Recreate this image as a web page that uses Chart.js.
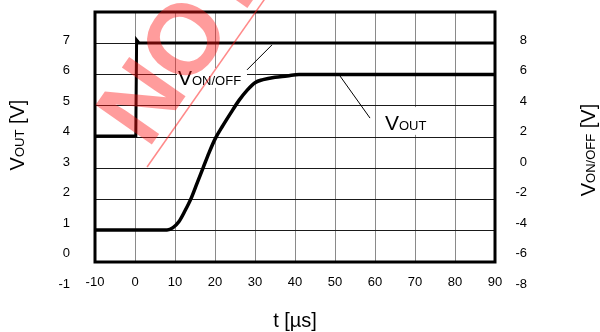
<!DOCTYPE html>
<html>
<head>
<meta charset="UTF-8">
<title>VOUT / VON/OFF vs t</title>
<script src="https://cdn.jsdelivr.net/npm/chart.js"></script>
<style>
  html, body { margin: 0; padding: 0; background: #fff; }
  .wrap { width: 600px; height: 332px; }
</style>
</head>
<body>
<div class="wrap"><canvas id="chart" width="600" height="332"></canvas></div>
<script>
// tick labels
const tTicks = [-10, 0, 10, 20, 30, 40, 50, 60, 70, 80, 90];
const voutTicks = [-1, 0, 1, 2, 3, 4, 5, 6, 7];
const vonTicks = [-8, -6, -4, -2, 0, 2, 4, 6, 8];

// V_OUT trace (left axis)
const voutT = [-10, 8, 9.5, 11, 12.5, 14, 15.5, 17, 18.5, 20, 22, 24, 26, 28, 30, 32, 35, 38, 41, 90];
const voutV = [0.77, 0.77, 0.85, 1.05, 1.4, 1.8, 2.3, 2.8, 3.3, 3.75, 4.2, 4.62, 5.02, 5.35, 5.6, 5.7, 5.78, 5.82, 5.87, 5.87];

// V_ON/OFF trace (right axis)
const vonT = [-10, 0.2, 0.4, 1.0, 90];
const vonV = [1.7, 1.7, 8.0, 7.8, 7.8];

const FONT = "'Liberation Sans', Arial, sans-serif";

function pts(xs, ys) {
    return xs.map((x, i) => ({ x: x, y: ys[i] }));
}

// text runs of different sizes on one baseline (for subscripts)
function partsWidth(ctx, parts) {
    let w = 0;
    parts.forEach(p => { ctx.font = p[1] + 'px ' + FONT; w += ctx.measureText(p[0]).width; });
    return w;
}
function drawParts(ctx, parts, x, y) {
    parts.forEach(p => {
        ctx.font = p[1] + 'px ' + FONT;
        ctx.fillText(p[0], x, y);
        x += ctx.measureText(p[0]).width;
    });
}

const decor = {
    id: 'decor',
    beforeDatasetsDraw(chart) {
        const ctx = chart.ctx, x = chart.scales.x, yl = chart.scales.yl;
        const a = chart.chartArea;
        ctx.save();
        // white boxes behind the labels
        ctx.fillStyle = '#fff';
        [[10.5, 28, 6.08, 5.43], [62, 73.75, 4.8, 3.89]].forEach(b => {
            const x0 = x.getPixelForValue(b[0]), x1 = x.getPixelForValue(b[1]);
            const y0 = yl.getPixelForValue(b[2]), y1 = yl.getPixelForValue(b[3]);
            ctx.fillRect(x0, y0, x1 - x0, y1 - y0);
        });
        // frame
        ctx.strokeStyle = '#000';
        ctx.lineWidth = 3;
        ctx.strokeRect(a.left, a.top, a.right - a.left, a.bottom - a.top);
        ctx.restore();
    },
    afterDatasetsDraw(chart) {
        const ctx = chart.ctx, x = chart.scales.x, yl = chart.scales.yl;
        ctx.save();
        ctx.fillStyle = '#000';
        ctx.strokeStyle = '#000';
        ctx.lineWidth = 1;
        ctx.textBaseline = 'alphabetic';
        ctx.textAlign = 'left';

        // leader lines
        [[28, 6.02, 34.25, 6.84], [51.25, 5.82, 58.75, 4.44]].forEach(l => {
            ctx.beginPath();
            ctx.moveTo(x.getPixelForValue(l[0]), yl.getPixelForValue(l[1]));
            ctx.lineTo(x.getPixelForValue(l[2]), yl.getPixelForValue(l[3]));
            ctx.stroke();
        });
        drawParts(ctx, [['V', 21], ['ON/OFF', 13]], x.getPixelForValue(10.75), yl.getPixelForValue(5.52));
        drawParts(ctx, [['V', 21], ['OUT', 13]], x.getPixelForValue(62.5), yl.getPixelForValue(4.05));

        // axis titles
        const tParts = [['t [\u00b5s]', 20]];
        drawParts(ctx, tParts, 295 - partsWidth(ctx, tParts) / 2, 327);

        const lParts = [['V', 20], ['OUT', 13], [' [V]', 20]];
        ctx.save();
        ctx.translate(24, 135);
        ctx.rotate(-Math.PI / 2);
        drawParts(ctx, lParts, -partsWidth(ctx, lParts) / 2, 0);
        ctx.restore();

        const rParts = [['V', 20], ['ON/OFF', 13], [' [V]', 20]];
        ctx.save();
        ctx.translate(595, 150);
        ctx.rotate(-Math.PI / 2);
        drawParts(ctx, rParts, -partsWidth(ctx, rParts) / 2, 0);
        ctx.restore();

        // watermark
        ctx.save();
        ctx.translate(148, 150);
        ctx.rotate(-55 * Math.PI / 180);
        ctx.fillStyle = 'rgba(255, 20, 20, 0.42)';
        ctx.strokeStyle = 'rgba(255, 20, 20, 0.5)';
        ctx.font = 'bold 100px ' + FONT;
        ctx.fillText('NOT', 0, 0);
        ctx.lineWidth = 1.5;
        ctx.beginPath();
        ctx.moveTo(-14.5, 9);
        ctx.lineTo(330, 9);
        ctx.stroke();
        ctx.restore();

        ctx.restore();
    }
};

const setTicks = list => axis => { axis.ticks = list.map(v => ({ value: v })); };

new Chart(document.getElementById('chart'), {
    type: 'line',
    data: {
        datasets: [
            {
                label: 'VOUT',
                data: pts(voutT, voutV),
                yAxisID: 'yl',
                borderColor: '#000',
                borderWidth: 3.5,
                pointRadius: 0,
                cubicInterpolationMode: 'monotone'
            },
            {
                label: 'VON/OFF',
                data: pts(vonT, vonV),
                yAxisID: 'yr',
                borderColor: '#000',
                borderWidth: 3,
                pointRadius: 0,
                tension: 0
            }
        ]
    },
    options: {
        responsive: false,
        animation: false,
        devicePixelRatio: 1,
        layout: { padding: { left: 40, right: 73, top: 12, bottom: 0 } },
        plugins: { legend: { display: false }, tooltip: { enabled: false } },
        scales: {
            x: {
                type: 'linear',
                min: -10,
                max: 90,
                afterBuildTicks: setTicks(tTicks),
                afterFit: s => { s.height = 70; },
                border: { display: false },
                grid: { color: '#8a8a8a', lineWidth: 1, drawTicks: false },
                ticks: { color: '#000', font: { family: FONT, size: 13 }, padding: 13, maxRotation: 0, autoSkip: false }
            },
            yl: {
                type: 'linear',
                position: 'left',
                weight: 1,
                min: -0.279,
                max: 7.918,
                afterBuildTicks: setTicks(voutTicks),
                afterFit: s => { s.width = 55; },
                border: { display: false },
                grid: { display: false, drawTicks: true, tickLength: 25 },
                ticks: { color: '#000', font: { family: FONT, size: 13 }, padding: 0, autoSkip: false }
            },
            yg: {
                type: 'linear',
                position: 'left',
                weight: 0,
                min: 0,
                max: 8,
                afterFit: s => { s.width = 0; },
                border: { display: false },
                grid: { color: '#1a1a1a', lineWidth: 1, drawTicks: false },
                ticks: { stepSize: 1, display: false, padding: 0 }
            },
            yr: {
                type: 'linear',
                position: 'right',
                min: -6.557,
                max: 9.836,
                afterBuildTicks: setTicks(vonTicks),
                afterFit: s => { s.width = 32; },
                border: { display: false },
                grid: { display: false, drawTicks: false },
                ticks: { color: '#000', font: { family: FONT, size: 13 }, padding: 0, crossAlign: 'far', autoSkip: false }
            }
        }
    },
    plugins: [decor]
});
</script>
</body>
</html>
